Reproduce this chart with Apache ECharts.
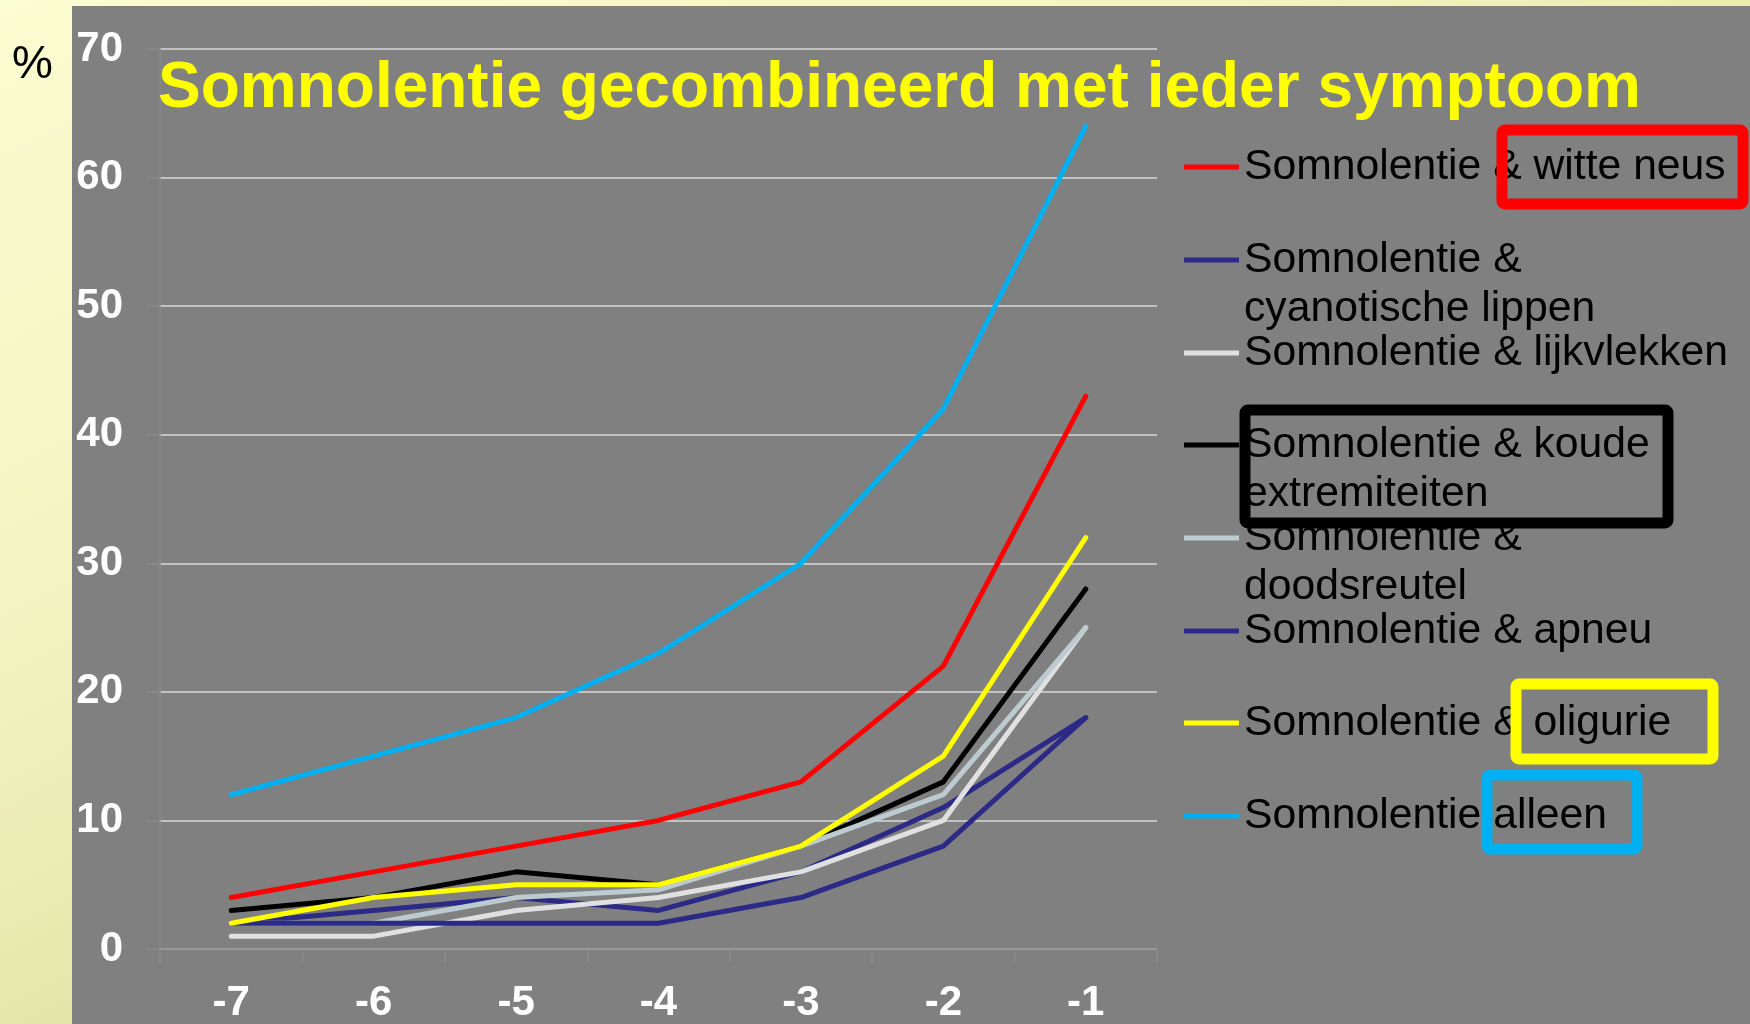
<!DOCTYPE html>
<html>
<head>
<meta charset="utf-8">
<script src="https://cdn.jsdelivr.net/npm/echarts@6/dist/echarts.min.js"></script>
<style>
html, body { margin: 0; padding: 0; }
#main { width: 1750px; height: 1024px; }
</style>
</head>
<body>
<div id="main"></div>
<script>
// dagen voor overlijden
var days = ['-7', '-6', '-5', '-4', '-3', '-2', '-1'];
var yTicks = [0, 10, 20, 30, 40, 50, 60, 70];

var witteNeus   = [4, 6, 8, 10, 13, 22, 43];
var cyanotisch  = [2, 3, 4, 3, 6, 11, 18];
var lijkvlekken = [1, 1, 3, 4, 6, 10, 25];
var koude       = [3, 4, 6, 5, 8, 13, 28];
var doodsreutel = [2, 2, 4, 4.6, 8, 12, 25];
var apneu       = [2, 2, 2, 2, 4, 8, 18];
var oligurie    = [2, 4, 5, 5, 8, 15, 32];
var alleen      = [12, 15, 18, 23, 30, 42, 64];

var names = [
    'Somnolentie & witte neus',
    'Somnolentie &\ncyanotische lippen',
    'Somnolentie & lijkvlekken',
    'Somnolentie & koude\nextremiteiten',
    'Somnolentie &\ndoodsreutel',
    'Somnolentie & apneu',
    'Somnolentie & oligurie',
    'Somnolentie alleen'
];
var values = [witteNeus, cyanotisch, lijkvlekken, koude, doodsreutel, apneu, oligurie, alleen];
var colors = ['#ff0000', '#2b2a86', '#e0e0e0', '#000000', '#bccbcf', '#2b2a86', '#ffff00', '#00b0f0'];

// legend rows (y of the icon) - one legend per item so the icon sits on the first line
var legendY = [167, 260, 353, 445, 538, 631, 723, 816];
var lh = 49;

var series = values.map(function (v, i) {
    return {
        name: names[i],
        type: 'line',
        data: v,
        color: colors[i],
        symbol: 'none',
        lineStyle: { width: 5, join: 'round', cap: 'round' },
        emphasis: { disabled: true },
        animation: false
    };
});

var legends = names.map(function (n, i) {
    var two = n.indexOf('\n') >= 0;
    return {
        data: [n],
        // an empty first line puts the icon level with the real first line
        formatter: two ? function (s) { return ' \n' + s; } : '{name}',
        left: 1184,
        top: two ? legendY[i] - 1.5 * lh : legendY[i] - lh / 2,
        padding: 0,
        icon: 'rect',
        itemWidth: 55,
        itemHeight: 5,
        selectedMode: false,
        textStyle: {
            color: '#000',
            fontSize: 42.7,
            lineHeight: lh,
            fontFamily: 'Liberation Sans, Arial, sans-serif'
        }
    };
});

function box(x, y, w, h, c) {
    return {
        type: 'rect',
        z: 100,
        shape: { x: x, y: y, width: w, height: h, r: 3 },
        style: { fill: 'none', stroke: c, lineWidth: 11, lineJoin: 'round' }
    };
}

var option = {
    backgroundColor: {
        type: 'linear', x: 0, y: 0, x2: 0.3, y2: 1,
        colorStops: [
            { offset: 0, color: '#fbfdd2' },
            { offset: 0.5, color: '#f2f4c0' },
            { offset: 1, color: '#dcdf9e' }
        ]
    },
    animation: false,
    title: {
        text: 'Somnolentie gecombineerd met ieder symptoom',
        left: 158,
        top: 57,
        padding: 0,
        textStyle: {
            color: '#ffff00',
            fontSize: 64,
            fontWeight: 'bold',
            fontFamily: 'Liberation Sans, Arial, sans-serif'
        }
    },
    legend: legends,
    grid: {
        left: 160,
        right: 593,
        top: 49,
        bottom: 74,
        containLabel: false
    },
    xAxis: {
        type: 'category',
        data: days,
        boundaryGap: true,
        axisLine: { lineStyle: { color: '#8a8a8a', width: 1.5 } },
        axisTick: { show: true, length: 13, lineStyle: { color: '#8a8a8a', width: 1.5 } },
        axisLabel: {
            color: '#ffffff',
            fontSize: 42,
            fontWeight: 'bold',
            margin: 33,
            fontFamily: 'Liberation Sans, Arial, sans-serif'
        },
        splitLine: { show: false }
    },
    yAxis: {
        type: 'value',
        min: yTicks[0],
        max: yTicks[yTicks.length - 1],
        interval: 10,
        axisLine: { show: true, lineStyle: { color: '#8a8a8a', width: 1.5 } },
        axisTick: { show: true, length: 13, lineStyle: { color: '#8a8a8a', width: 1.5 } },
        axisLabel: {
            color: '#ffffff',
            fontSize: 42,
            fontWeight: 'bold',
            margin: 37,
            fontFamily: 'Liberation Sans, Arial, sans-serif'
        },
        splitLine: { lineStyle: { color: '#d9d9d9', width: 1.5 } }
    },
    graphic: [
        {
            type: 'rect',
            z: -100,
            silent: true,
            shape: { x: 72, y: 6, width: 1678, height: 1018 },
            style: { fill: '#808080' }
        },
        {
            type: 'text',
            left: 12,
            top: 42,
            style: {
                text: '%',
                fill: '#000',
                fontSize: 46,
                fontFamily: 'Liberation Sans, Arial, sans-serif'
            }
        },
        box(1502, 130, 241, 74, '#ff0000'),
        box(1245, 410, 423, 113, '#000000'),
        box(1516, 684, 197, 75, '#ffff00'),
        box(1487, 775, 150, 74, '#00b0f0')
    ],
    series: series
};

var chart = echarts.init(document.getElementById('main'));
chart.setOption(option);
</script>
</body>
</html>
